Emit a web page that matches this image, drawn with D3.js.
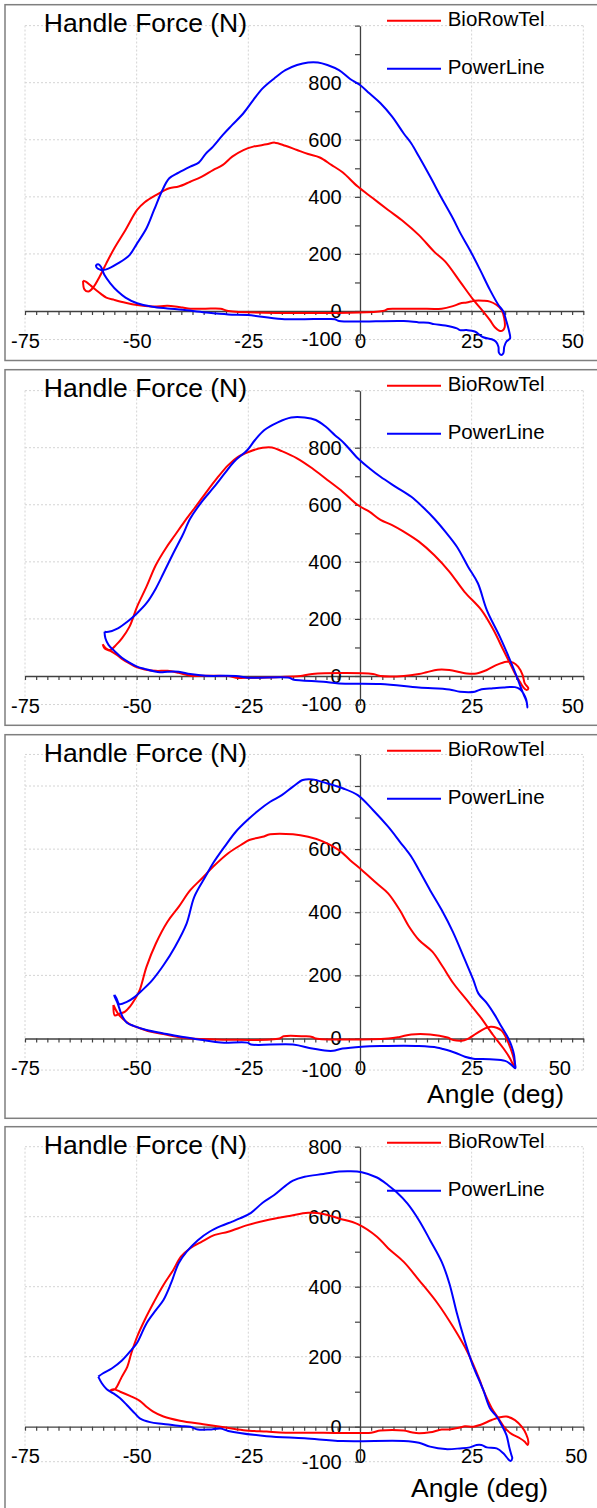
<!DOCTYPE html>
<html>
<head>
<meta charset="utf-8">
<script src="https://cdn.jsdelivr.net/npm/d3@7/dist/d3.min.js"></script>
<style>
  html, body { margin: 0; padding: 0; background: #ffffff; }
  svg { display: block; }
  text { font-family: "Liberation Sans", Arial, Helvetica, sans-serif; fill: #000; }
</style>
</head>
<body>
<svg id="chart" width="597" height="1508"></svg>
<script>
// ---------------- DATA (angle deg, handle force N) ----------------
const seriesNames = ["BioRowTel", "PowerLine"];
const xTickLabels = [-75, -50, -25, 0, 25, 50];
const yTickLabels = [-100, 0, 200, 400, 600, 800];
const yMaxValues = [1000, 1000, 900, 800];
const titleText = "Handle Force (N)";
const xTitleText = "Angle (deg)";

const p1BioRowTel = [[-62.0,106],[-61.7,76],[-60.8,68],[-59.7,83],[-58.3,120],[-56.8,167],[-55.0,220],[-52.5,284],[-49.9,354],[-48.2,381],[-45.7,406],[-42.7,430],[-40.6,436],[-38.0,453],[-35.4,471],[-32.9,494],[-30.7,512],[-28.6,541],[-26.1,564],[-23.9,576],[-20.9,584],[-19.1,590],[-16.7,579],[-14.1,564],[-11.6,550],[-9.0,538],[-6.4,512],[-3.9,486],[-0.5,436],[2.9,395],[6.3,354],[9.8,313],[13.2,266],[16.6,208],[19.1,173],[22.4,103],[25.4,39],[27.6,-2],[29.1,-32],[30.2,-57],[31.2,-69],[31.9,-69],[32.4,-57],[32.3,-26],[31.7,4],[30.6,21],[29.1,33],[27.6,36],[25.7,36],[23.9,30],[22.4,26],[20.8,17],[18.3,8],[13.2,8],[8.0,8],[6.3,7],[5.1,0],[-29.5,0],[-31.2,8],[-34.6,8],[-38.0,8],[-39.7,12],[-41.4,16],[-43.1,18],[-46.5,16],[-49.9,21],[-52.5,29],[-55.0,39],[-56.8,47],[-58.0,60],[-58.9,71],[-60.2,88],[-61.4,103],[-62.0,106]];
const p1PowerLine = [[-58.8,149],[-58.0,144],[-56.8,146],[-54.2,167],[-51.6,196],[-49.9,237],[-47.8,290],[-46.1,354],[-44.4,418],[-42.7,465],[-40.6,485],[-38.0,506],[-36.1,520],[-34.6,550],[-32.9,576],[-30.7,617],[-28.6,652],[-26.1,693],[-23.9,739],[-21.8,780],[-19.2,815],[-16.7,844],[-14.1,862],[-11.6,871],[-9.4,871],[-7.3,862],[-4.7,844],[-2.2,813],[0.0,792],[2.1,763],[4.6,728],[7.2,681],[9.8,622],[11.5,587],[13.2,541],[15.7,471],[18.3,395],[20.8,325],[22.5,272],[24.6,214],[26.9,144],[29.1,74],[31.0,21],[32.1,-2],[32.8,-37],[33.4,-72],[33.6,-96],[32.8,-107],[32.3,-125],[32.1,-148],[31.6,-154],[31.1,-146],[31.0,-125],[30.4,-107],[29.5,-99],[27.6,-92],[25.7,-72],[23.9,-67],[22.4,-67],[21.7,-61],[19.1,-51],[16.6,-46],[15.3,-41],[13.2,-40],[9.8,-35],[-4.7,-35],[-5.6,-29],[-7.3,-28],[-17.5,-28],[-25.2,-14],[-29.5,-12],[-34.6,-5],[-39.7,4],[-43.1,9],[-46.5,15],[-49.9,27],[-52.5,47],[-54.2,68],[-55.9,97],[-57.2,126],[-58.0,155],[-58.6,164],[-59.1,159],[-58.8,149]];

const p2BioRowTel = [[-57.6,111],[-56.9,97],[-55.9,91],[-54.6,109],[-53.3,132],[-51.6,173],[-49.9,243],[-47.8,313],[-45.7,389],[-43.5,447],[-41.4,494],[-39.3,541],[-37.1,587],[-34.6,640],[-32.0,693],[-29.5,739],[-27.3,768],[-24.8,786],[-21.8,800],[-19.7,801],[-17.5,788],[-14.1,763],[-10.7,728],[-7.3,687],[-3.9,646],[-0.5,599],[2.1,576],[4.6,547],[7.2,529],[9.8,506],[13.2,471],[16.6,424],[20.0,366],[23.4,295],[27.2,231],[29.9,161],[32.1,91],[33.6,44],[34.7,9],[35.8,-20],[36.6,-40],[37.3,-49],[37.7,-43],[36.9,-26],[36.4,4],[35.4,33],[34.3,47],[32.8,50],[30.6,39],[28.4,21],[26.1,9],[23.9,9],[22.5,13],[20.0,21],[17.4,22],[14.9,13],[13.2,7],[9.8,0],[4.6,0],[2.9,7],[-10.7,7],[-13.3,0],[-15.0,-2],[-24.4,-6],[-27.8,-6],[-29.5,0],[-34.6,1],[-38.0,1],[-40.6,11],[-43.1,18],[-45.7,18],[-48.2,23],[-49.9,30],[-51.6,44],[-53.3,60],[-54.6,76],[-55.9,88],[-57.2,97],[-57.6,111]];
const p2PowerLine = [[-57.2,155],[-56.3,155],[-54.2,167],[-52.1,190],[-49.9,220],[-47.8,255],[-45.7,307],[-44.0,360],[-41.8,430],[-39.7,494],[-38.0,552],[-35.4,611],[-32.9,658],[-30.3,710],[-28.2,751],[-25.2,792],[-23.5,827],[-21.4,862],[-18.4,889],[-15.4,906],[-12.4,906],[-9.9,897],[-7.7,874],[-5.6,844],[-3.5,815],[-0.5,763],[2.1,728],[4.6,698],[8.0,663],[11.5,628],[14.0,593],[16.6,552],[19.1,506],[21.7,453],[24.2,383],[26.4,325],[28.4,231],[31.3,138],[33.6,56],[35.1,-2],[36.0,-40],[36.7,-67],[37.3,-90],[37.5,-110],[37.2,-82],[36.6,-61],[35.8,-46],[34.7,-39],[32.1,-40],[29.8,-43],[26.9,-48],[25.7,-55],[22.4,-55],[20.0,-47],[13.2,-40],[4.6,-28],[-4.7,-26],[-8.2,-20],[-15.0,-12],[-15.8,-6],[-25.2,-6],[-27.8,0],[-34.6,1],[-38.0,7],[-40.6,15],[-43.1,15],[-44.8,13],[-48.2,25],[-49.9,33],[-51.6,47],[-53.3,64],[-55.0,88],[-56.3,109],[-57.0,132],[-57.2,155]];

const p3BioRowTel = [[-55.2,106],[-54.9,73],[-53.9,78],[-52.6,85],[-51.5,101],[-50.4,124],[-49.3,154],[-47.8,227],[-45.7,301],[-43.1,370],[-40.6,417],[-38.0,470],[-35.4,507],[-32.9,544],[-29.5,587],[-26.1,618],[-24.8,629],[-21.8,639],[-20.1,647],[-15.0,647],[-11.6,639],[-8.2,624],[-4.7,597],[-2.2,565],[0.4,534],[3.8,491],[6.3,460],[8.9,407],[11.0,354],[13.2,312],[16.2,275],[18.5,228],[20.9,175],[23.9,122],[26.9,69],[29.8,11],[32.1,-31],[33.6,-63],[34.7,-94],[34.5,-68],[33.7,-31],[32.8,0],[31.7,25],[30.6,34],[29.3,37],[28.0,32],[26.1,16],[23.9,-3],[22.8,-7],[20.9,-5],[19.6,3],[15.7,13],[11.5,13],[8.9,5],[6.3,0],[-9.9,0],[-10.7,5],[-12.4,7],[-17.1,7],[-18.0,0],[-38.0,0],[-40.3,4],[-44.0,14],[-47.0,22],[-49.6,34],[-51.5,45],[-53.0,61],[-54.1,77],[-55.2,106]];
const p3PowerLine = [[-55.0,138],[-54.5,127],[-53.9,109],[-52.2,116],[-50.4,132],[-48.9,151],[-46.5,185],[-44.0,232],[-41.4,291],[-38.8,365],[-37.1,449],[-34.6,513],[-32.9,555],[-30.3,608],[-27.8,655],[-25.2,692],[-22.6,724],[-20.1,750],[-17.5,771],[-15.0,798],[-12.8,819],[-10.7,821],[-7.3,808],[-3.9,793],[-0.5,771],[2.9,724],[6.3,671],[8.9,624],[11.5,576],[13.2,534],[15.7,470],[18.3,407],[20.8,338],[23.5,249],[25.4,185],[26.5,143],[28.4,112],[30.2,74],[31.7,37],[33.2,1],[34.0,-26],[34.5,-52],[34.7,-79],[34.8,-94],[33.7,-81],[32.5,-71],[29.1,-66],[25.4,-64],[23.5,-58],[21.3,-45],[18.5,-33],[17.4,-29],[13.2,-24],[4.6,-24],[0.4,-26],[-3.9,-32],[-6.0,-39],[-7.3,-39],[-10.7,-32],[-15.0,-19],[-24.4,-19],[-25.2,-13],[-31.2,-13],[-35.1,-5],[-40.3,6],[-44.0,16],[-47.8,27],[-50.7,40],[-52.2,50],[-53.1,67],[-53.7,88],[-54.3,113],[-55.0,135],[-55.0,138]];

const p4BioRowTel = [[-56.1,102],[-54.8,108],[-53.7,133],[-53.3,143],[-52.1,171],[-51.2,210],[-49.9,257],[-48.2,305],[-46.1,357],[-44.0,405],[-41.8,448],[-40.1,486],[-38.0,510],[-35.4,529],[-32.5,548],[-29.5,557],[-25.2,576],[-20.9,590],[-15.8,602],[-11.6,611],[-8.2,608],[-4.7,595],[-0.5,579],[3.8,543],[6.3,510],[9.8,471],[13.2,419],[17.4,352],[20.8,286],[24.2,210],[26.8,133],[27.6,105],[29.5,53],[31.0,24],[32.5,-5],[34.0,-21],[35.8,-33],[36.9,-43],[37.5,-52],[37.7,-43],[37.2,-21],[36.2,0],[34.7,19],[32.8,29],[31.3,27],[29.5,19],[26.9,5],[25.4,0],[23.5,1],[22.4,-2],[20.0,-8],[18.3,-8],[15.7,-16],[13.2,-19],[11.5,-16],[9.8,-11],[4.6,-11],[2.5,-17],[-8.2,-17],[-16.7,-17],[-20.9,-14],[-26.1,-10],[-31.2,0],[-35.1,7],[-40.3,17],[-44.0,29],[-46.3,43],[-47.8,57],[-49.3,74],[-51.5,88],[-53.7,100],[-55.2,107],[-56.1,102]];
const p4PowerLine = [[-58.6,143],[-57.6,152],[-55.5,167],[-53.3,189],[-51.2,219],[-49.9,240],[-47.8,295],[-45.7,333],[-44.0,362],[-42.3,410],[-40.6,467],[-38.8,500],[-36.3,533],[-33.7,557],[-31.2,573],[-28.6,586],[-26.9,595],[-24.4,611],[-21.8,640],[-19.2,662],[-16.7,688],[-15.0,703],[-12.4,714],[-8.2,722],[-4.7,729],[-2.2,730],[0.4,727],[3.8,712],[6.3,690],[8.1,671],[10.6,638],[13.2,590],[15.7,533],[18.3,471],[20.0,410],[21.7,324],[23.4,248],[25.1,181],[25.7,162],[27.6,105],[29.1,53],[30.6,29],[31.7,5],[32.8,-24],[33.4,-57],[33.9,-81],[34.1,-90],[33.7,-98],[33.2,-93],[32.1,-76],[30.6,-62],[28.4,-59],[27.2,-52],[26.1,-52],[24.6,-59],[22.4,-62],[19.1,-64],[15.7,-57],[13.2,-46],[9.8,-41],[-3.9,-41],[-12.4,-33],[-20.9,-27],[-29.5,-12],[-31.2,-5],[-33.7,-8],[-36.3,-8],[-38.0,0],[-40.3,2],[-44.0,8],[-47.0,13],[-49.3,24],[-50.4,38],[-52.2,62],[-53.7,81],[-55.2,95],[-56.7,107],[-57.8,124],[-58.6,143]];

const panelData = [
  [p1BioRowTel, p1PowerLine],
  [p2BioRowTel, p2PowerLine],
  [p3BioRowTel, p3PowerLine],
  [p4BioRowTel, p4PowerLine]
];

// ---------------- LAYOUT / STYLE ----------------
const seriesColors = ["#ff0000", "#0000ff"];
const layout = [
  { top: 4.7,    bottom: 360.5,  y0: 311.0,  y800: 82.7,   xTitle: null, lastDx: -11 },
  { top: 369.7,  bottom: 725.3,  y0: 676.0,  y800: 447.7,  xTitle: null, lastDx: -11 },
  { top: 734.7,  bottom: 1118.3, y0: 1038.5, y800: 786.0,  xTitle: { x: 427, y: 1103.3 }, lastDx: -24 },
  { top: 1126.7, bottom: 1530,   y0: 1426.7, y800: 1146.7, xTitle: { x: 411, y: 1496.7 }, lastDx: -7.5 }
];
const xLeft = 25, xRight = 583.3;

const svg = d3.select("#chart");
svg.append("rect").attr("width", 597).attr("height", 1508).attr("fill", "#fff");

const x = d3.scaleLinear().domain([-75, 50]).range([xLeft, xRight]);

layout.forEach((L, i) => {
  const yMax = yMaxValues[i];
  const k = (L.y0 - L.y800) / 800;
  const y = d3.scaleLinear().domain([-100, yMax]).range([L.y0 + 100 * k, L.y0 - yMax * k]);
  const g = svg.append("g");

  // panel frame
  g.append("rect")
    .attr("x", 5).attr("y", L.top)
    .attr("width", 620).attr("height", L.bottom - L.top)
    .attr("fill", "none").attr("stroke", "#7f7f7f").attr("stroke-width", 1.5);

  // gridlines
  const hGrid = Array.from(new Set([-100, ...d3.range(200, yMax + 1, 200), yMax]));
  g.append("g").selectAll("line").data(hGrid).join("line")
    .attr("x1", x(-75)).attr("x2", x(50))
    .attr("y1", d => y(d)).attr("y2", d => y(d))
    .attr("stroke", "#d4d4d4").attr("stroke-width", 1).attr("stroke-dasharray", "2,2");
  g.append("g").selectAll("line").data(xTickLabels.filter(d => d !== 0)).join("line")
    .attr("x1", d => x(d)).attr("x2", d => x(d))
    .attr("y1", y(-100)).attr("y2", y(yMax))
    .attr("stroke", "#d4d4d4").attr("stroke-width", 1).attr("stroke-dasharray", "2,2");

  // x axis at y = 0
  const xAxis = d3.axisBottom(x)
    .tickValues(d3.range(-75, 50.01, 2.5))
    .tickSize(4).tickSizeOuter(0).tickPadding(18.5)
    .tickFormat(d => (Math.abs(d % 25) < 1e-9 ? String(d) : ""));
  const gx = g.append("g").attr("transform", `translate(0,${y(0)})`).call(xAxis);
  gx.select(".domain").attr("stroke", "#404040").attr("stroke-width", 1.3);
  gx.selectAll(".tick line").attr("stroke", "#404040").attr("stroke-width", 1.2);
  gx.selectAll(".tick text").attr("font-size", 20).attr("fill", "#000")
    .attr("font-family", '"Liberation Sans", Arial, sans-serif')
    .attr("dx", d => (d === 50 ? L.lastDx : 0));

  // y axis at x = 0
  const yAxis = d3.axisLeft(y)
    .tickValues(d3.range(-100, yMax + 0.01, 100))
    .tickSize(5).tickSizeOuter(0).tickPadding(13.3)
    .tickFormat(d => (yTickLabels.includes(d) ? String(d) : ""));
  const gy = g.append("g").attr("transform", `translate(${x(0)},0)`).call(yAxis);
  gy.select(".domain").attr("stroke", "#404040").attr("stroke-width", 1.3);
  gy.selectAll(".tick line").attr("stroke", "#404040").attr("stroke-width", 1.2);
  gy.selectAll(".tick text").attr("font-size", 20).attr("fill", "#000")
    .attr("font-family", '"Liberation Sans", Arial, sans-serif');

  // curves
  const line = d3.line().x(d => x(d[0])).y(d => y(d[1])).curve(d3.curveCatmullRom.alpha(0.5));
  panelData[i].forEach((s, j) => {
    g.append("path").datum(s)
      .attr("d", line)
      .attr("fill", "none")
      .attr("stroke", seriesColors[j])
      .attr("stroke-width", 2)
      .attr("stroke-linejoin", "round");
  });

  // title
  g.append("text").attr("x", 43.8).attr("y", L.top + 27.6)
    .attr("font-size", 26.5).text(titleText);

  // legend
  seriesNames.forEach((name, j) => {
    const ly = L.top + 16 + j * 48;
    g.append("line").attr("x1", 387).attr("x2", 441).attr("y1", ly).attr("y2", ly)
      .attr("stroke", seriesColors[j]).attr("stroke-width", 2);
    g.append("text").attr("x", 447.7).attr("y", ly + 5.6).attr("font-size", 20.5).text(name);
  });

  // x-axis title
  if (L.xTitle) {
    g.append("text").attr("x", L.xTitle.x).attr("y", L.xTitle.y)
      .attr("font-size", 26.5).text(xTitleText);
  }
});
</script>
</body>
</html>
